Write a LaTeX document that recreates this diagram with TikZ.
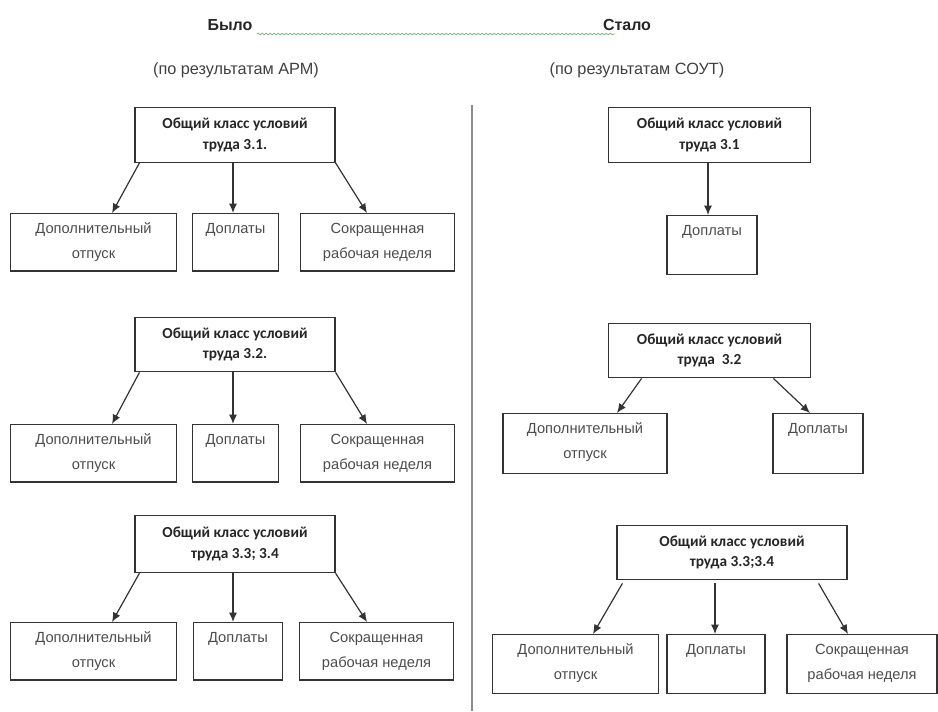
\documentclass[tikz,border=0pt]{standalone}
\usepackage{fontspec}
\setmainfont{Liberation Sans}
\newfontfamily\boxfont{Carlito}
\usetikzlibrary{arrows.meta, calc, decorations.pathmorphing}

\tikzset{
  head/.style={font=\fontsize{12}{14}\selectfont\bfseries, text=black!85},
  sub/.style={font=\fontsize{12.2}{14}\selectfont, text=black!75},
  classbox/.style={draw=black!80, line width=0.9pt, align=center, minimum width=#1,
    minimum height=41pt, inner sep=1pt,
    font=\boxfont\fontsize{11.5}{15.5}\selectfont\bfseries, text=black!85},
  kid/.style={draw=black!80, line width=0.9pt, align=center, anchor=north, minimum width=#1,
    inner xsep=1pt, inner ysep=0pt, text height=15pt, text depth=28pt,
    font=\fontsize{11}{18.5}\selectfont, text=black!70},
  kidtwo/.style={kid=#1, text height=33.5pt, text depth=9.5pt},
  arr/.style={draw=black!80, line width=0.9pt, -{Latex[length=7pt,width=6pt]}},
  divider/.style={draw=black!45, line width=1.5pt},
  squiggle/.style={draw=green!55!black!60, line width=0.5pt,
    decorate, decoration={snake, segment length=3pt, amplitude=0.6pt}}
}

\begin{document}
\begin{tikzpicture}[x=0.75pt, y=-0.75pt]
    \useasboundingbox (0,0) rectangle (938,711);

    % --- Headings ---
    \node[head] (bylo) at (230,25) {Было};
    \node[head] (stalo) at (627,25) {Стало};
    \node[sub] (arm) at (236,70) {(по результатам АРМ)};
    \node[sub] (sout) at (637,70) {(по результатам СОУТ)};
    \coordinate (sqa) at (257,34);
    \coordinate (sqb) at (615,34);
    \draw[squiggle] (sqa) -- (sqb);

    % --- Divider ---
    \coordinate (divtop) at (472,105);
    \coordinate (divbot) at (472,711);
    \draw[divider] (divtop) -- (divbot);

    % --- Left column, 3.1 ---
    \node[classbox=150pt] (L1) at (235,135) {Общий класс условий\\труда 3.1.};
    \node[kidtwo=124pt] (L1a) at (93.5,213) {Дополнительный\\отпуск};
    \node[kid=64pt] (L1b) at (235.5,213) {Доплаты};
    \node[kidtwo=116pt] (L1c) at (377.5,213) {Сокращенная\\рабочая неделя};
    \draw[arr] ($(L1.south west)+(5,0)$) -- ($(L1a.north)+(18.5,0)$);
    \draw[arr] ($(L1.south)+(-2,0)$) -- ($(L1b.north)+(-2.5,0)$);
    \draw[arr] (L1.south east) -- ($(L1c.north)+(-10.5,0)$);

    % --- Left column, 3.2 ---
    \node[classbox=150pt] (L2) at (235,344.5) {Общий класс условий\\труда 3.2.};
    \node[kidtwo=124pt] (L2a) at (93.5,424) {Дополнительный\\отпуск};
    \node[kid=64pt] (L2b) at (235.5,424) {Доплаты};
    \node[kidtwo=116pt] (L2c) at (377.5,424) {Сокращенная\\рабочая неделя};
    \draw[arr] ($(L2.south west)+(5,0)$) -- ($(L2a.north)+(18.5,0)$);
    \draw[arr] ($(L2.south)+(-2,0)$) -- ($(L2b.north)+(-2.5,0)$);
    \draw[arr] (L2.south east) -- ($(L2c.north)+(-10.5,0)$);

    % --- Left column, 3.3; 3.4 ---
    \node[classbox=150pt, minimum height=43pt] (L3) at (235,544) {Общий класс условий\\труда 3.3; 3.4};
    \node[kidtwo=124pt] (L3a) at (93.5,622) {Дополнительный\\отпуск};
    \node[kid=67pt] (L3b) at (238,622) {Доплаты};
    \node[kidtwo=115pt] (L3c) at (376.5,622) {Сокращенная\\рабочая неделя};
    \draw[arr] ($(L3.south west)+(5,0)$) -- ($(L3a.north)+(18.5,0)$);
    \draw[arr] ($(L3.south)+(-2,0)$) -- ($(L3b.north)+(-5,0)$);
    \draw[arr] (L3.south east) -- ($(L3c.north)+(-9.5,0)$);

    % --- Right column, 3.1 ---
    \node[classbox=152pt] (R1) at (709.5,135) {Общий класс условий\\труда 3.1};
    \node[kid=67.5pt, text depth=29pt] (R1b) at (712,215) {Доплаты};
    \draw[arr] ($(R1.south)+(-1.5,0)$) -- ($(R1b.north)+(-4,0)$);

    % --- Right column, 3.2 ---
    \node[classbox=152pt] (R2) at (709.5,350.5) {Общий класс условий\\труда ~3.2};
    \node[kidtwo=123pt, text depth=11.5pt] (R2a) at (585,413) {Дополнительный\\отпуск};
    \node[kid=67.5pt, text depth=30pt] (R2b) at (818,413) {Доплаты};
    \draw[arr] ($(R2.south west)+(34,0)$) -- ($(R2a.north)+(32,0)$);
    \draw[arr] ($(R2.south east)+(-38,0)$) -- ($(R2b.north)+(-8,0)$);

    % --- Right column, 3.3;3.4 ---
    \node[classbox=172.5pt] (R3) at (732,552.5) {Общий класс условий\\труда 3.3;3.4};
    \node[kidtwo=124pt, text depth=10.5pt] (R3a) at (575.5,634) {Дополнительный\\отпуск};
    \node[kid=73.5pt, text depth=29pt] (R3b) at (716,634) {Доплаты};
    \node[kidtwo=112.5pt, text depth=10.5pt] (R3c) at (862,634) {Сокращенная\\рабочая неделя};
    \draw[arr] ($(R3.south west)+(6,3)$) -- ($(R3a.north)+(17.5,0)$);
    \draw[arr] ($(R3.south)+(-17,3)$) -- ($(R3b.north)+(-1,0)$);
    \draw[arr] ($(R3.south east)+(-29,3)$) -- ($(R3c.north)+(-14,0)$);

\end{tikzpicture}
\end{document}
